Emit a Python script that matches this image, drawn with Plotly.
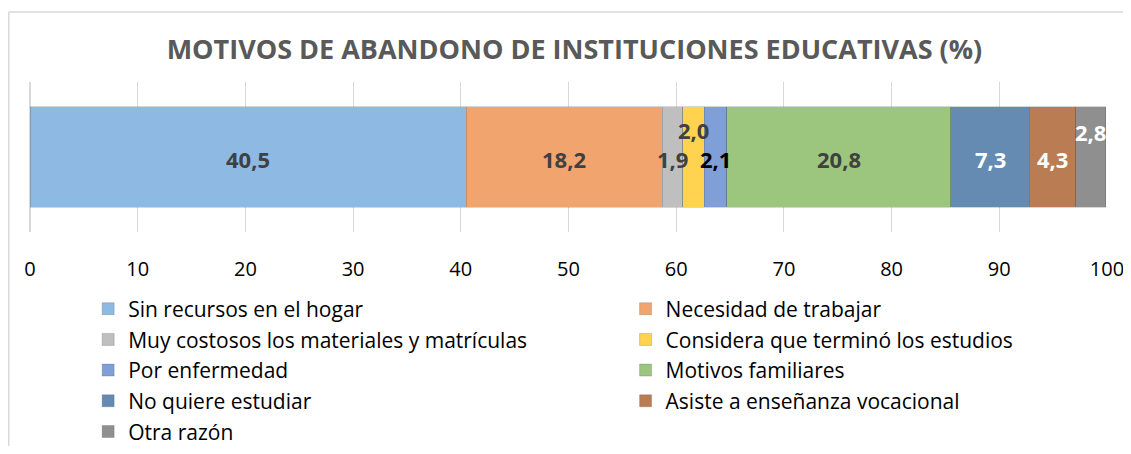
import plotly.graph_objects as go

motivos = [
    "Sin recursos en el hogar",
    "Necesidad de trabajar",
    "Muy costosos los materiales y matrículas",
    "Considera que terminó los estudios",
    "Por enfermedad",
    "Motivos familiares",
    "No quiere estudiar",
    "Asiste a enseñanza vocacional",
    "Otra razón",
]
porcentajes = [40.5, 18.2, 1.9, 2.0, 2.1, 20.8, 7.3, 4.3, 2.8]
etiquetas = ["40,5", "18,2", "1,9", "2,0", "2,1", "20,8", "7,3", "4,3", "2,8"]

colores = ["#8DB9E3", "#F2A46F", "#BFBFBF", "#FFD34F", "#7F9FD6",
           "#9CC67D", "#658BB2", "#BA7D53", "#8F8F8F"]
color_texto = ["#404040", "#404040", "#404040", "#404040", "#000000",
               "#404040", "#FFFFFF", "#FFFFFF", "#FFFFFF"]
# desplazamiento vertical de las etiquetas pequeñas
desplaz = [-2, -2, -2, 27, -2, -2, -2, -2, 25]
# la columna de leyenda en la que va cada serie
columna = ["legend", "legend2", "legend", "legend2", "legend",
           "legend2", "legend", "legend2", "legend"]

FONT = "Open Sans"

fig = go.Figure()
for i, (nombre, valor) in enumerate(zip(motivos, porcentajes)):
    fig.add_trace(
        go.Bar(
            x=[valor],
            y=["a"],
            orientation="h",
            name=nombre,
            marker=dict(color=colores[i], line=dict(width=0.6, color="rgba(60,60,60,0.35)")),
            legend=columna[i],
            legendgroup=nombre,
            hoverinfo="name+x",
        )
    )

# etiquetas de datos centradas en cada segmento
acum = 0.0
for i, valor in enumerate(porcentajes):
    centro = acum + valor / 2
    acum += valor
    fig.add_annotation(
        x=centro,
        y="a",
        text=etiquetas[i],
        showarrow=False,
        yshift=desplaz[i],
        font=dict(family=FONT, size=22, color=color_texto[i], weight="bold"),
    )

# marco del gráfico (la página añade 8 px de margen al cuerpo)
fig.add_shape(type="line", xref="paper", yref="paper", x0=-0.0197, x1=1.1, y0=1.467, y1=1.467,
              line=dict(color="#D9D9D9", width=1.5))
fig.add_shape(type="line", xref="paper", yref="paper", x0=-0.0197, x1=-0.0197, y0=1.467, y1=-1.7,
              line=dict(color="#D9D9D9", width=1.5))

fig.update_layout(
    barmode="stack",
    bargap=0.33,
    width=1115,
    height=438,
    margin=dict(l=22, r=16, t=74, b=214, autoexpand=False),
    paper_bgcolor="white",
    plot_bgcolor="white",
    font=dict(family=FONT, color="#000000"),
    title=dict(
        text="MOTIVOS DE ABANDONO DE INSTITUCIONES EDUCATIVAS (%)",
        x=0.508,
        xanchor="center",
        y=1 - 42 / 438,
        yanchor="middle",
        yref="container",
        font=dict(family=FONT, size=27, color="#595959", weight="bold"),
    ),
    legend=dict(
        orientation="v",
        x=0.054,
        xanchor="left",
        y=-0.377,
        yanchor="top",
        bgcolor="rgba(0,0,0,0)",
        font=dict(family=FONT, size=21, color="#000000"),
        tracegroupgap=0.4,
    ),
    legend2=dict(
        orientation="v",
        x=0.553,
        xanchor="left",
        y=-0.377,
        yanchor="top",
        bgcolor="rgba(0,0,0,0)",
        font=dict(family=FONT, size=21, color="#000000"),
        tracegroupgap=0.4,
    ),
)
fig.update_xaxes(
    range=[0, 100],
    dtick=10,
    showgrid=True,
    gridcolor="#D9D9D9",
    gridwidth=1,
    zeroline=True,
    zerolinecolor="#D9D9D9",
    ticklabelstandoff=23,
    ticklabeloverflow="allow",
    tickfont=dict(family=FONT, size=20, color="#000000"),
    showline=False,
)
fig.update_yaxes(showticklabels=False, showgrid=False, zeroline=False)

fig.write_html("out.html")
